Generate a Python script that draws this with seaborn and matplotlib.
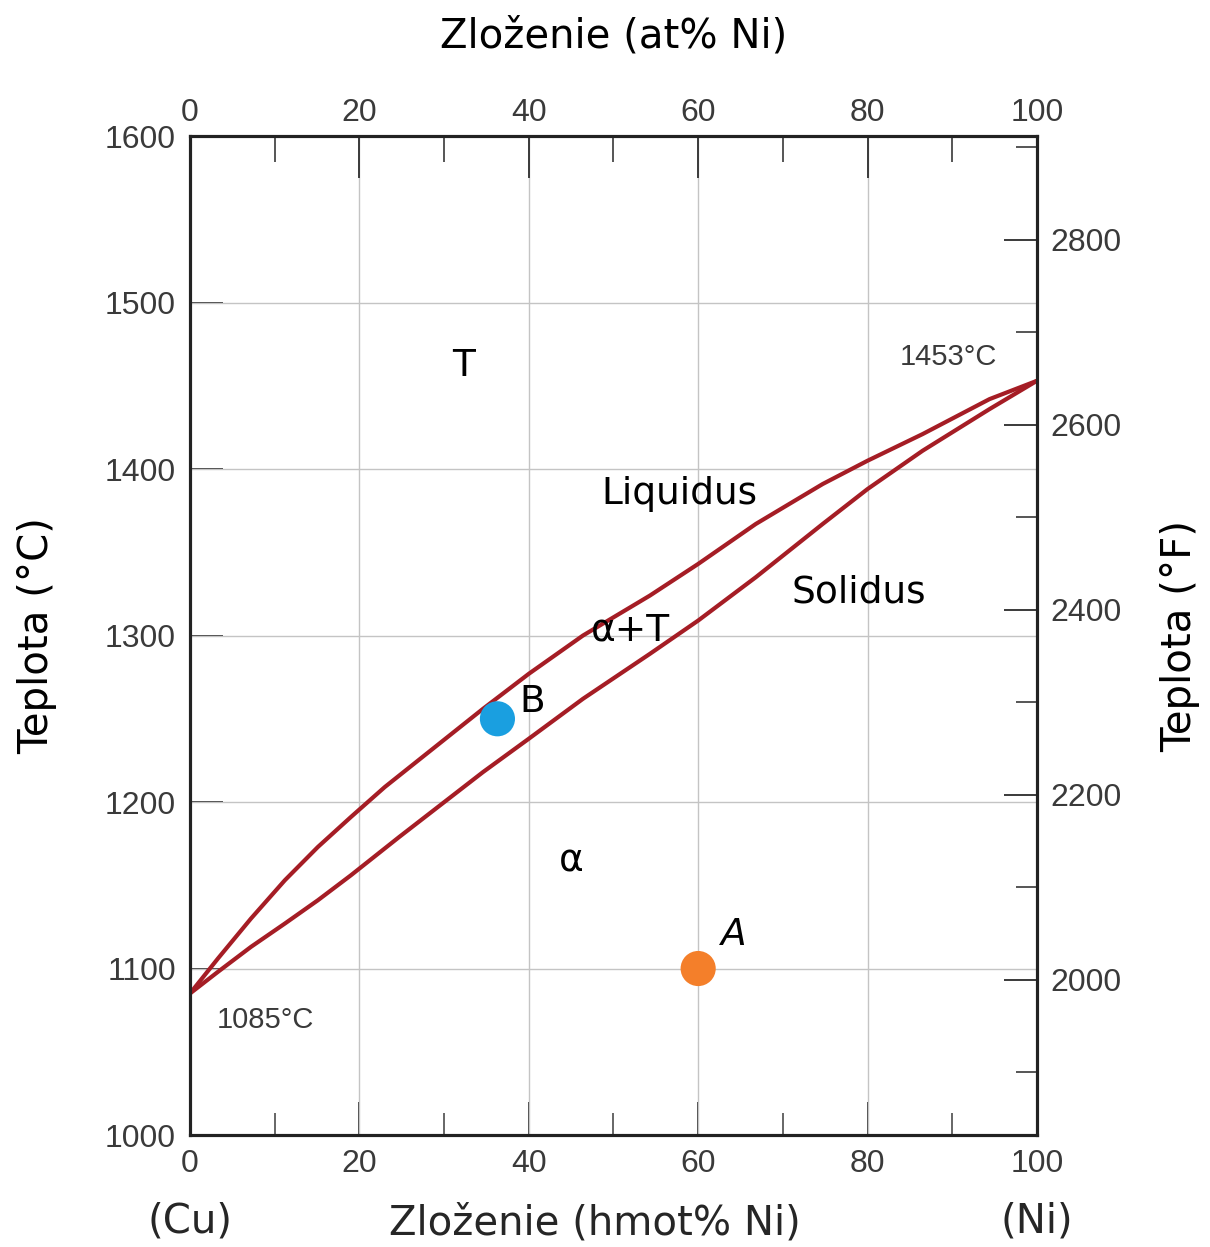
import matplotlib
matplotlib.use("Agg")
import matplotlib.pyplot as plt
import seaborn as sns
import pandas as pd
from matplotlib.ticker import MultipleLocator

# ---- data ----
liq_wt = [0, 3.3, 7.2, 11.2, 15.1, 19.0, 23.0, 26.7, 34.6, 40, 46.4, 54.3, 60, 66.8, 74.7, 80, 86.5, 94.4, 100]
liq_T = [1085, 1106, 1130, 1153, 1173, 1191, 1209, 1224, 1256, 1277, 1300, 1324, 1343, 1367, 1391, 1405, 1421, 1442, 1453]
sol_wt = [0, 3.3, 7.2, 11.2, 15.1, 19.0, 24.7, 34.6, 40, 46.4, 54.3, 60, 66.8, 74.7, 80, 86.5, 94.4, 100]
sol_T = [1085, 1098, 1113, 1127, 1141, 1156, 1179, 1218, 1238, 1262, 1289, 1309, 1335, 1367, 1388, 1411, 1436, 1453]
pt_names = ["A", "B"]
pt_wt = [60, 36.3]
pt_T = [1100, 1250]
pt_colors = ["#f47f2a", "#1a9fe0"]

x_ticks = [0, 20, 40, 60, 80, 100]
y_ticks_C = [1000, 1100, 1200, 1300, 1400, 1500, 1600]
y_ticks_F = [2000, 2200, 2400, 2600, 2800]

sns.set_theme(style="white")
plt.rcParams['font.family'] = ['DejaVu Sans']

fig = plt.figure(figsize=(12.1, 12.47), dpi=100)
ax = fig.add_axes([0.157, 0.0898, 0.7, 0.8011])

RED = "#a51d25"
TICKC = "#3a3a3a"

df_liq = pd.DataFrame({"wt": liq_wt, "T": liq_T})
df_sol = pd.DataFrame({"wt": sol_wt, "T": sol_T})
sns.lineplot(data=df_liq, x="wt", y="T", ax=ax, color=RED, lw=3.0, sort=False, zorder=3,
             solid_joinstyle="round")
sns.lineplot(data=df_sol, x="wt", y="T", ax=ax, color=RED, lw=3.0, sort=False, zorder=3,
             solid_joinstyle="round")

df_pts = pd.DataFrame({"wt": pt_wt, "T": pt_T, "name": pt_names})
sns.scatterplot(data=df_pts, x="wt", y="T", hue="name", palette=dict(zip(pt_names, pt_colors)),
                s=640, edgecolor="none", ax=ax, legend=False, zorder=4)

ax.set_xlim(0, 100)
ax.set_ylim(1000, 1600)

# grid
for gx in [20, 40, 60, 80]:
    ax.axvline(gx, color="#c4c4c4", lw=1.0, zorder=1)
for gy in [1100, 1200, 1300, 1400, 1500]:
    ax.axhline(gy, color="#c4c4c4", lw=1.0, zorder=1)

for s in ax.spines.values():
    s.set_linewidth(2.2)
    s.set_color("#222222")
    s.set_visible(True)

ax.set_xticks(x_ticks)
ax.set_xticklabels([str(v) for v in x_ticks], fontfamily="Liberation Sans", fontsize=23, color=TICKC)
ax.xaxis.set_minor_locator(MultipleLocator(10))
ax.set_yticks(y_ticks_C)
ax.set_yticklabels([str(v) for v in y_ticks_C], fontfamily="Liberation Sans", fontsize=23, color=TICKC)
ax.tick_params(axis="x", which="major", direction="in", length=24, width=1.4, color=TICKC, pad=10, bottom=True)
ax.tick_params(axis="x", which="minor", direction="in", length=16, width=1.4, color="#666666", bottom=True)
ax.tick_params(axis="y", which="major", direction="in", length=24, width=1.4, color=TICKC, pad=10, left=True)

ax.set_xlabel("")
ax.set_ylabel("Teplota (°C)", fontsize=29, color="black")
ax.yaxis.set_label_coords(-0.157, 0.5)

# top axis (at% Ni)
axt = ax.twiny()
axt.set_xlim(0, 100)
axt.set_xticks(x_ticks)
axt.set_xticklabels([str(v) for v in x_ticks], fontfamily="Liberation Sans", fontsize=23, color=TICKC)
axt.xaxis.set_minor_locator(MultipleLocator(10))
axt.tick_params(axis="x", which="major", direction="in", length=30, width=1.4, color=TICKC, pad=6, top=True)
axt.tick_params(axis="x", which="minor", direction="in", length=19, width=1.4, color="#555555", top=True)
axt.set_xlabel("Zloženie (at% Ni)", fontsize=29, color="black")
axt.xaxis.set_label_coords(0.5, 1.089)
for s in axt.spines.values():
    s.set_linewidth(2.2)
    s.set_color("#222222")

# right axis (°F)
axr = ax.twinx()
axr.set_ylim(1000 * 9 / 5 + 32, 1600 * 9 / 5 + 32)
axr.set_yticks(y_ticks_F)
axr.set_yticklabels([str(v) for v in y_ticks_F], fontfamily="Liberation Sans", fontsize=23, color=TICKC)
axr.yaxis.set_minor_locator(MultipleLocator(100))
axr.tick_params(axis="y", which="major", direction="in", length=24, width=1.4, color=TICKC, pad=10, right=True)
axr.tick_params(axis="y", which="minor", direction="in", length=15, width=1.4, color="#555555", right=True)
axr.set_ylabel("Teplota (°F)", fontsize=29, color="black")
axr.yaxis.set_label_coords(1.145, 0.5)
for s in axr.spines.values():
    s.set_linewidth(2.2)
    s.set_color("#222222")

# region labels
lab = dict(fontsize=27, color="black", ha="center", va="center", zorder=5)
ax.text(32.3, 1462, "T", **lab)
ax.text(57.8, 1385, "Liquidus", **lab)
ax.text(79.0, 1326, "Solidus", **lab)
ax.text(52.0, 1303, "α+T", **lab)
ax.text(45.0, 1164, "α", **lab)
ax.text(40.4, 1260, "B", **lab)
ax.text(64.2, 1120, "A", fontsize=27, color="black", ha="center", va="center", style="italic", zorder=5)
ax.text(89.5, 1467, "1453°C", fontfamily="Liberation Sans", fontsize=21, color=TICKC, ha="center", va="center")
ax.text(8.9, 1069, "1085°C", fontfamily="Liberation Sans", fontsize=21, color=TICKC, ha="center", va="center")

# bottom labels
ax.text(0, -0.087, "(Cu)", transform=ax.transAxes, fontsize=29, ha="center", va="center")
ax.text(1.0, -0.087, "(Ni)", transform=ax.transAxes, fontsize=29, ha="center", va="center")
ax.text(0.478, -0.089, "Zloženie (hmot% Ni)", transform=ax.transAxes, fontsize=29, ha="center", va="center")

fig.savefig("out.png", dpi=100, facecolor="white")
